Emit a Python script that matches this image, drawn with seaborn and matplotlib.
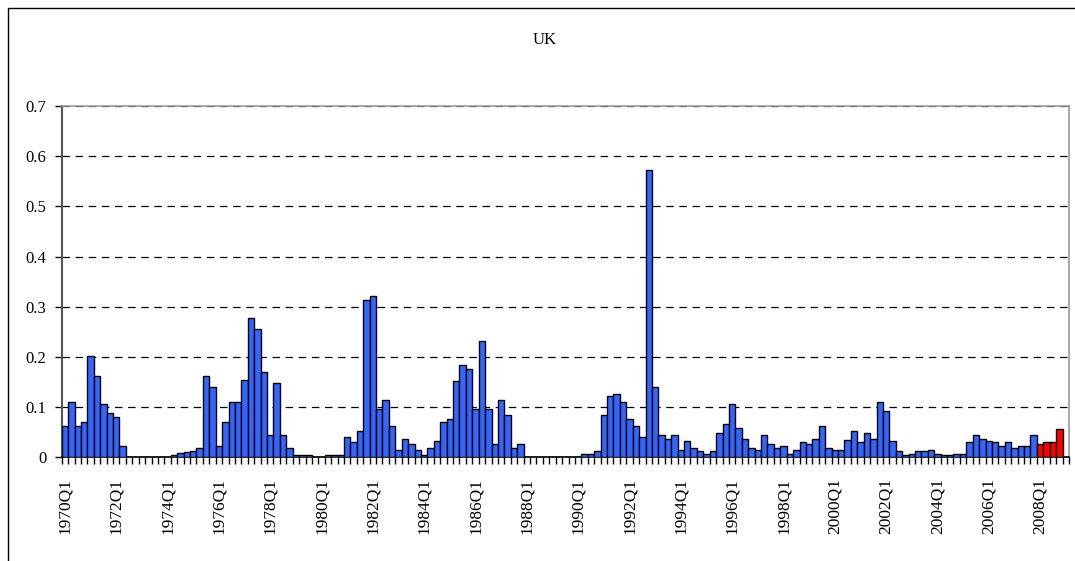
#Importing Libraries
import numpy as np
import pandas as pd
import matplotlib.pyplot as plt
import seaborn as sns

#Data
years = list(range(1970, 2010))
quarters = [f"{y}Q{q}" for y in years for q in range(1, 5)][:157]

values = [
    0.063, 0.111, 0.063, 0.070, 0.203, 0.163, 0.107, 0.089,   # 1970-1971
    0.081, 0.022, 0.0, 0.0, 0.0, 0.0, 0.0, 0.0,               # 1972-1973
    0.0, 0.004, 0.008, 0.011, 0.012, 0.019, 0.163, 0.140,     # 1974-1975
    0.022, 0.070, 0.111, 0.111, 0.155, 0.277, 0.255, 0.170,   # 1976-1977
    0.044, 0.148, 0.044, 0.018, 0.004, 0.004, 0.004, 0.0,     # 1978-1979
    0.0, 0.004, 0.004, 0.004, 0.041, 0.030, 0.052, 0.314,     # 1980-1981
    0.321, 0.096, 0.114, 0.063, 0.015, 0.037, 0.026, 0.015,   # 1982-1983
    0.004, 0.019, 0.033, 0.070, 0.077, 0.152, 0.184, 0.177,   # 1984-1985
    0.096, 0.232, 0.096, 0.026, 0.115, 0.085, 0.019, 0.026,   # 1986-1987
    0.0, 0.0, 0.0, 0.0, 0.0, 0.0, 0.0, 0.0,                   # 1988-1989
    0.0, 0.007, 0.007, 0.012, 0.085, 0.122, 0.126, 0.111,     # 1990-1991
    0.077, 0.063, 0.041, 0.572, 0.140, 0.044, 0.037, 0.044,   # 1992-1993
    0.015, 0.033, 0.019, 0.012, 0.007, 0.012, 0.048, 0.067,   # 1994-1995
    0.107, 0.059, 0.037, 0.019, 0.015, 0.044, 0.026, 0.019,   # 1996-1997
    0.023, 0.007, 0.015, 0.030, 0.026, 0.037, 0.063, 0.019,   # 1998-1999
    0.015, 0.015, 0.034, 0.052, 0.030, 0.048, 0.037, 0.111,   # 2000-2001
    0.092, 0.033, 0.012, 0.004, 0.007, 0.012, 0.012, 0.015,   # 2002-2003
    0.007, 0.004, 0.004, 0.007, 0.007, 0.030, 0.044, 0.037,   # 2004-2005
    0.033, 0.030, 0.023, 0.030, 0.019, 0.023, 0.023, 0.044,   # 2006-2007
    0.026, 0.030, 0.030, 0.056, np.nan,                       # 2008-2009Q1
]

# last four quarters are highlighted in red
period = ["actual"] * 152 + ["latest"] * 5
colors = {"actual": "#3366FF", "latest": "#FF0000"}

df = pd.DataFrame({"quarter": quarters, "value": values, "period": period})

#Plot
plt.rcParams['font.family'] = ['Liberation Serif', 'DejaVu Serif']
fig = plt.figure(figsize=(10.75, 5.61), dpi=100)
ax = fig.add_axes([0.0574, 0.1845, 0.9370, 0.6266])

sns.barplot(data=df, x="quarter", y="value", hue="period", palette=colors,
            order=quarters, dodge=False, width=1.0, saturation=1,
            edgecolor="black", linewidth=1.0, legend=False, ax=ax, zorder=3)

ax.set_xlim(-0.5, len(quarters) - 0.5)
ax.set_ylim(0, 0.7)
ax.set_yticks(np.arange(0, 0.71, 0.1))
ax.set_yticklabels(["0", "0.1", "0.2", "0.3", "0.4", "0.5", "0.6", "0.7"], fontsize=12)

# labels every 2 years, tick marks on every category boundary
label_pos = list(range(0, len(quarters), 8))
ax.set_xticks(label_pos)
ax.set_xticklabels([quarters[i] for i in label_pos], rotation=90, fontsize=12.5)
ax.set_xticks(np.arange(-0.5, len(quarters), 1.0), minor=True)
ax.tick_params(axis="x", which="major", length=0, pad=15)
ax.tick_params(axis="x", which="minor", length=5, width=1, color="black")
ax.tick_params(axis="y", length=5, width=1, color="black", pad=6)

ax.yaxis.grid(True, color="black", linestyle=(0, (6, 4.5)), linewidth=0.9, zorder=0)
ax.set_axisbelow(True)
for s in ["top", "right"]:
    ax.spines[s].set_color("#999999")
    ax.spines[s].set_linewidth(1.2)
ax.spines["left"].set_color("#555555")
ax.spines["left"].set_linewidth(1.5)
ax.spines["bottom"].set_color("black")
ax.spines["bottom"].set_linewidth(1.2)
ax.set_xlabel("")
ax.set_ylabel("")

fig.text(0.507, 0.928, "UK", ha="center", va="center", fontsize=12)

# outer frame around the chart (runs off the right and bottom edges)
frame = plt.Rectangle((0.0075, -0.01), 1.05, 0.996, transform=fig.transFigure,
                      fill=False, edgecolor="black", linewidth=1.0)
fig.patches.append(frame)

fig.savefig("out.png", dpi=100)
